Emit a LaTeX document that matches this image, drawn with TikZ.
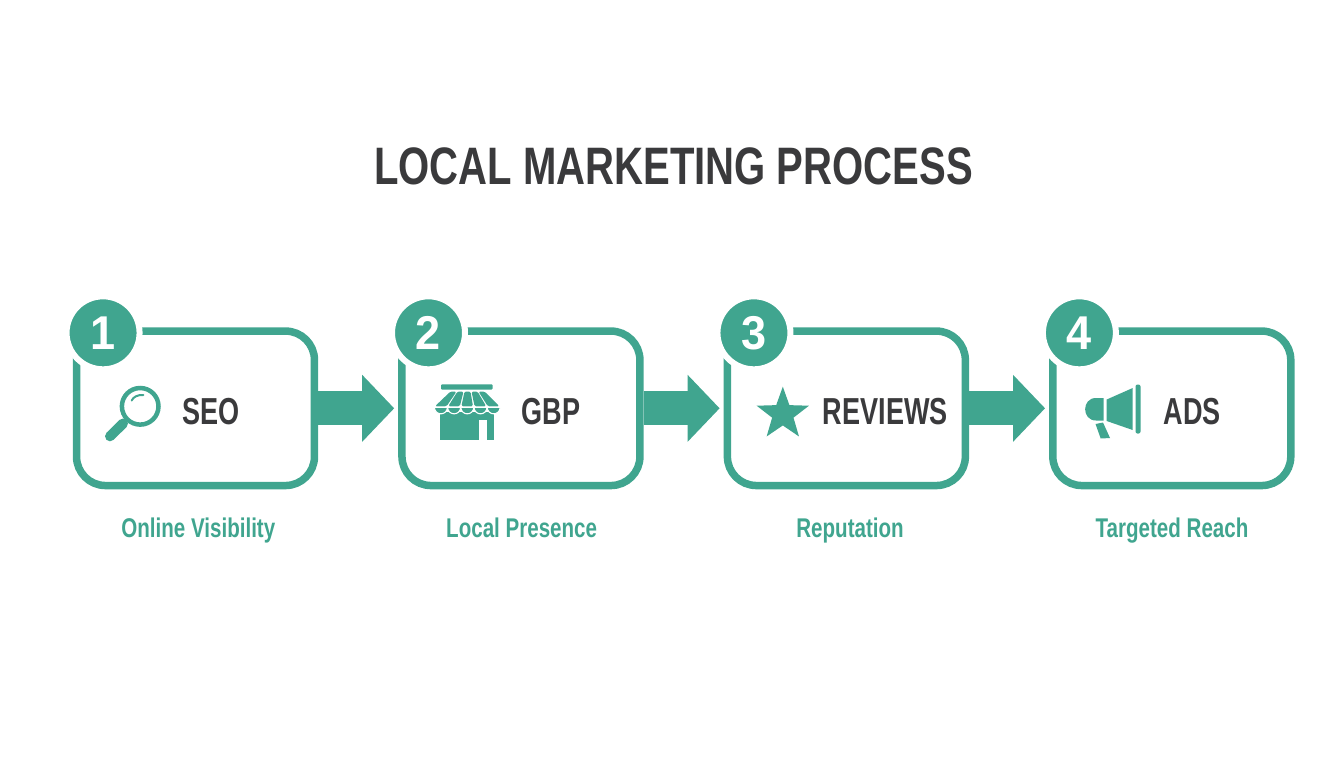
\documentclass[tikz,border=0pt]{standalone}
\usepackage{fontspec}
\setmainfont{Liberation Sans}[FakeStretch=0.76]
\newfontfamily\stagefont{Liberation Sans}[FakeStretch=0.72]
\newfontfamily\numfont{Liberation Sans}[FakeStretch=0.95]
\usetikzlibrary{arrows.meta,shapes.geometric}
\definecolor{mgreen}{HTML}{40A58F}
\definecolor{mdark}{HTML}{3A3A3C}
\tikzstyle{stage} = [rectangle, draw=mgreen, fill=white, line width=.15cm, rounded corners=.58cm, minimum width=4.76cm, minimum height=3.09cm]
\tikzstyle{badge} = [circle, draw=white, fill=mgreen, line width=.12cm, minimum size=1.46cm, inner sep=0pt, text=white, font=\numfont\fontsize{27}{30}\selectfont\bfseries]
\tikzstyle{stagetext} = [text=mdark, font=\stagefont\fontsize{21.4}{25}\selectfont\bfseries, text height=.54cm, text depth=0pt, inner sep=0pt, yshift=-.044cm]
\tikzstyle{caption} = [text=mgreen, font=\fontsize{15.4}{18}\selectfont\bfseries, text height=.39cm, text depth=.1cm, inner sep=0pt]
\tikzstyle{flow} = [->, draw=mgreen, line width=.68cm, shorten >=.08cm]

\begin{document}
\begin{tikzpicture}[x=.02cm,y=-.02cm,>={Triangle[length=.64cm,width=1.3cm]},node distance=6.51cm]
  \useasboundingbox (0,0) rectangle (1344,768);
  \node[text=mdark, font=\fontsize{30}{36}\selectfont\bfseries] (title) at (673.5,166) {LOCAL MARKETING PROCESS};

  \node[stage] (seo) at (195.5,408.3) {};
  \node[stage] (gbp) [right of=seo] {};
  \node[stage] (rev) [right of=gbp] {};
  \node[stage] (ads) [right of=rev] {};

  \path (seo) edge[flow] (gbp);
  \path (gbp) edge[flow] (rev);
  \path (rev) edge[flow] (ads);

  \node[badge, xshift=.606cm, yshift=-.11cm] (n_seo) at (seo.north west) {1};
  \node[badge, xshift=.606cm, yshift=-.11cm] (n_gbp) at (gbp.north west) {2};
  \node[badge, xshift=.606cm, yshift=-.11cm] (n_rev) at (rev.north west) {3};
  \node[badge, xshift=.606cm, yshift=-.11cm] (n_ads) at (ads.north west) {4};

  \node[stagetext, node distance=.31cm, right of=seo] (t_seo) {SEO};
  \node[stagetext, node distance=.6cm, right of=gbp] (t_gbp) {GBP};
  \node[stagetext, node distance=.78cm, right of=rev] (t_rev) {REVIEWS};
  \node[stagetext, node distance=.41cm, right of=ads] (t_ads) {ADS};

  \node[caption, node distance=2.43cm, below of=seo, xshift=.056cm] (c_seo) {Online Visibility};
  \node[caption, node distance=2.43cm, below of=gbp, xshift=.014cm] (c_gbp) {Local Presence};
  \node[caption, node distance=2.43cm, below of=rev, xshift=.074cm] (c_rev) {Reputation};
  \node[caption, node distance=2.43cm, below of=ads, xshift=.004cm] (c_ads) {Targeted Reach};

  \draw[mgreen, line width=.09cm] (140.2,406.3) circle (18.3);
  \draw[mgreen, line width=.04cm, line cap=round] (131.7,400.5) .. controls (133,397) and (138,394.5) .. (143.3,395);
  \draw[mgreen, line width=.06cm] (126,420.5) -- (122,424.5);
  \draw[mgreen, line width=.2cm, line cap=round] (123,423.5) -- (110,436.3);

  \fill[mgreen, rounded corners=.02cm] (441,384.3) rectangle (492.7,389.5);
  \fill[mgreen] (440,412) rectangle (494.3,440);
  \foreach \k in {0,...,4}
    \fill[mgreen, rounded corners=.03cm]
      ({450.5+7*\k},391.5) -- ({456.5+7*\k},391.5) -- ({446.6+13.2*\k},406.3) -- ({435+13.2*\k},406.3) -- cycle;
  \foreach \k in {0,...,4}
    \fill[mgreen, draw=white, line width=.022cm]
      ({434.3+13.2*\k},407.3) .. controls ({435+13.2*\k},416) and ({446.8+13.2*\k},416) .. ({447.5+13.2*\k},407.3) -- cycle;
  \fill[white] (479.3,420) rectangle (486.7,440.5);

  \node[star, star points=5, star point ratio=2.45, fill=mgreen, minimum size=1.1cm, inner sep=0pt] (icon_rev) at (782.8,414.2) {};

  \fill[mgreen, rounded corners=.04cm] (1135.5,384.5) rectangle (1140.5,433.5);
  \fill[mgreen] (1106.7,399.5) -- (1132.7,388) -- (1132.7,430) -- (1106.7,421) -- cycle;
  \fill[mgreen] (1103.5,398) -- (1096,398) .. controls (1081.5,398) and (1081.5,420.5) .. (1096,420.5) -- (1103.5,420.5) -- cycle;
  \fill[mgreen] (1095.5,424) -- (1103,422.5) -- (1110,438) -- (1100.7,438.5) -- cycle;
\end{tikzpicture}
\end{document}
